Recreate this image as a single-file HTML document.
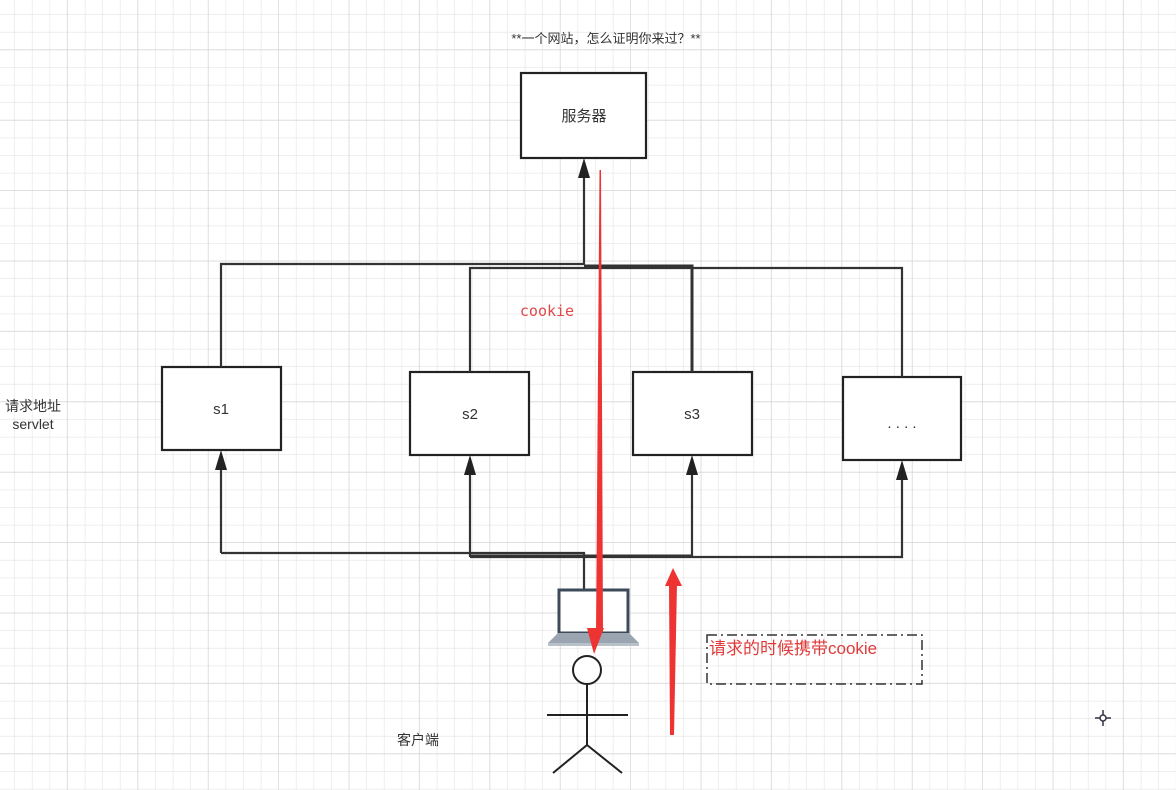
<!DOCTYPE html>
<html><head><meta charset="utf-8"><style>
html,body{margin:0;padding:0;background:#fff}
svg{display:block}
</style></head><body>
<svg width="1176" height="790" viewBox="0 0 1176 790" xmlns="http://www.w3.org/2000/svg" font-family="Liberation Sans, Noto Sans CJK SC, sans-serif">
<defs>
<pattern id="g" x="-2.6" y="-2.6" width="17.6" height="17.6" patternUnits="userSpaceOnUse">
<path d="M17.6 0V17.6M0 17.6H17.6" stroke="#e4e4e4" stroke-width="1.2" fill="none"/>
</pattern>
<pattern id="G" x="-2.6" y="-20.2" width="70.4" height="70.4" patternUnits="userSpaceOnUse">
<path d="M70.4 0V70.4M0 70.4H70.4" stroke="#d8d8d8" stroke-width="1.4" fill="none"/>
</pattern>
</defs>
<rect width="1176" height="790" fill="url(#g)"/>
<rect width="1176" height="790" fill="url(#G)"/>

<text x="606" y="43" font-size="13" fill="#333" text-anchor="middle">**一个网站，怎么证明你来过？**</text>

<g stroke="#222" stroke-width="2.2" fill="#fff">
<rect x="521" y="73" width="125" height="85"/>
<rect x="162" y="367" width="119" height="83"/>
<rect x="410" y="372" width="119" height="83"/>
<rect x="633" y="372" width="119" height="83"/>
<rect x="843" y="377" width="118" height="83"/>
</g>
<text x="584" y="121" font-size="15" fill="#333" text-anchor="middle">服务器</text>
<text x="221" y="414" font-size="15" fill="#333" text-anchor="middle">s1</text>
<text x="470" y="419" font-size="15" fill="#333" text-anchor="middle">s2</text>
<text x="692" y="419" font-size="15" fill="#333" text-anchor="middle">s3</text>
<text x="902" y="428" font-size="15" fill="#333" text-anchor="middle">. . . .</text>

<g stroke="#333" stroke-width="2.2" fill="none">
<path d="M221 367V264H584V172"/>
<path d="M584 266H692V372" stroke-width="3"/>
<path d="M470 372V268H902V377"/>
<path d="M221 553H584V590"/>
<path d="M221 553V466"/>
<path d="M470 557H902V476"/>
<path d="M470 556H692" stroke-width="3"/>
<path d="M470 557V471"/>
<path d="M692 557V471"/>
</g>
<g fill="#222">
<path d="M578 178L584 158L590 178Z"/>
<path d="M215 470L221 450L227 470Z"/>
<path d="M464 475L470 455L476 475Z"/>
<path d="M686 475L692 455L698 475Z"/>
<path d="M896 480L902 460L908 480Z"/>
</g>

<text x="547" y="316" font-size="15" fill="#e04848" style="font-family:'DejaVu Sans Mono','Liberation Mono',monospace" text-anchor="middle">cookie</text>
<text x="33" y="411" font-size="14" fill="#333" text-anchor="middle">请求地址</text>
<text x="33" y="429" font-size="14" fill="#333" text-anchor="middle">servlet</text>
<text x="418" y="745" font-size="14" fill="#333" text-anchor="middle">客户端</text>

<rect x="559" y="590" width="69" height="43" fill="#fff" stroke="#3d4a5a" stroke-width="3"/>
<path d="M548 643L558 633H629L639 643Z" fill="#9aa5b1"/>
<rect x="548" y="643" width="91" height="3" fill="#b8c0c8"/>

<g stroke="#222" stroke-width="2" fill="none">
<circle cx="587" cy="670" r="14" fill="#fff"/>
<path d="M587 684V745M547 715H628M587 745L553 773M587 745L622 773"/>
</g>

<path d="M599.5 170L601 170L603 632L596 632Z" fill="#ee3333"/>
<path d="M587 628L604 628L594 654Z" fill="#ee3333"/>
<path d="M670 735L669 584L677 584L674 735Z" fill="#ee3333"/>
<path d="M665 586L673 568L682 586Z" fill="#ee3333"/>

<rect x="707" y="635" width="215" height="49" fill="none" stroke="#333" stroke-width="1.5" stroke-dasharray="10,4,2,4"/>
<text x="709" y="654" font-size="17" fill="#e03a3a">请求的时候携带cookie</text>

<g stroke="#334" stroke-width="1.5"><path d="M1095 718H1111M1103 710V726"/><circle cx="1103" cy="718" r="3" fill="#fff"/></g>
</svg>
</body></html>
